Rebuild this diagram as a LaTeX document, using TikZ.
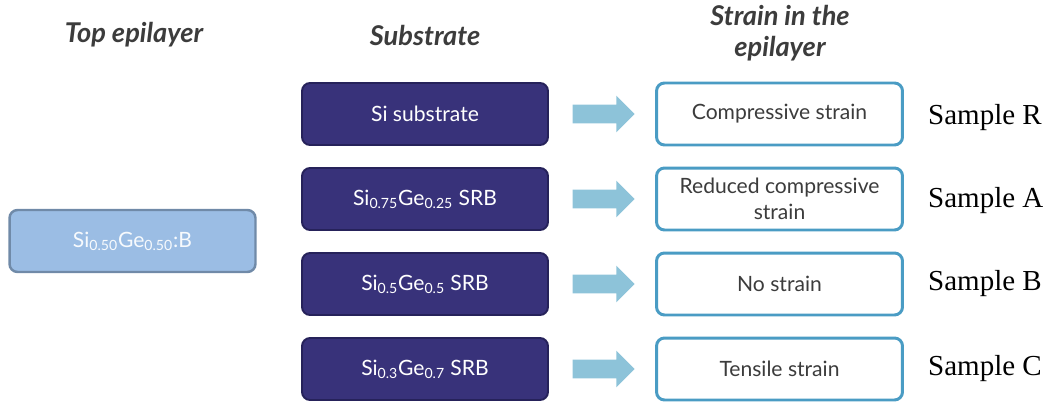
\documentclass[tikz,border=0pt]{standalone}
\usepackage{fontspec}
\setmainfont{Liberation Serif}
\newfontfamily\gill{Lato}
\usetikzlibrary{shapes.arrows}

\definecolor{darkbox}{RGB}{56,50,122}
\definecolor{darkedge}{RGB}{38,34,90}
\definecolor{epifill}{RGB}{155,189,228}
\definecolor{epiedge}{RGB}{112,138,168}
\definecolor{strainedge}{RGB}{74,156,196}
\definecolor{arrowblue}{RGB}{141,195,217}
\definecolor{textgray}{RGB}{60,60,60}

\begin{document}
\begin{tikzpicture}[x=0.02cm,y=-0.02cm,
    box/.style={rounded corners=0.16cm,minimum width=4.92cm,minimum height=1.24cm,
        align=center,font=\gill\fontsize{12}{15}\selectfont},
    substrate/.style={box,draw=darkedge,fill=darkbox,line width=1.1pt,text=white},
    epilayer/.style={box,draw=epiedge,fill=epifill,line width=1.4pt,text=white!92!epifill},
    strain/.style={box,draw=strainedge,fill=white,line width=1.7pt,text=textgray},
    head/.style={align=center,text=textgray,font=\gill\bfseries\itshape\fontsize{15.5}{17.5}\selectfont},
    sample/.style={anchor=west,font=\fontsize{16.5}{19}\selectfont},
    flow/.style={single arrow,fill=arrowblue,draw=none,inner sep=0.18cm,
        single arrow head extend=0.18cm,minimum height=1.24cm}]
    \useasboundingbox (0,0) rectangle (1047,402);

    \node[head] (hTop) at (134,35) {Top epilayer};
    \node[head] (hSub) at (425,35) {Substrate};
    \node[head] (hStr) at (780,33) {Strain in the\\epilayer};

    \node[epilayer] (epi) at (132.5,241) {Si\textsubscript{0.50}Ge\textsubscript{0.50}:B};

    \node[substrate] (subR) at (425,114) {Si substrate};
    \node[substrate] (subA) at (425,199) {Si\textsubscript{0.75}Ge\textsubscript{0.25} SRB};
    \node[substrate] (subB) at (425,284) {Si\textsubscript{0.5}Ge\textsubscript{0.5} SRB};
    \node[substrate] (subC) at (425,369) {Si\textsubscript{0.3}Ge\textsubscript{0.7} SRB};

    \node[flow] (arR) at (599,114) {};
    \node[flow] (arA) at (599,199) {};
    \node[flow] (arB) at (599,284) {};
    \node[flow] (arC) at (599,369) {};

    \node[strain] (strR) at (779.5,114) {Compressive strain};
    \node[strain] (strA) at (779.5,199) {Reduced compressive\\strain};
    \node[strain] (strB) at (779.5,284) {No strain};
    \node[strain] (strC) at (779.5,369) {Tensile strain};

    \node[sample] (smpR) at (922,118) {Sample R};
    \node[sample] (smpA) at (922,201) {Sample A};
    \node[sample] (smpB) at (922,284) {Sample B};
    \node[sample] (smpC) at (922,369) {Sample C};

\end{tikzpicture}
\end{document}
